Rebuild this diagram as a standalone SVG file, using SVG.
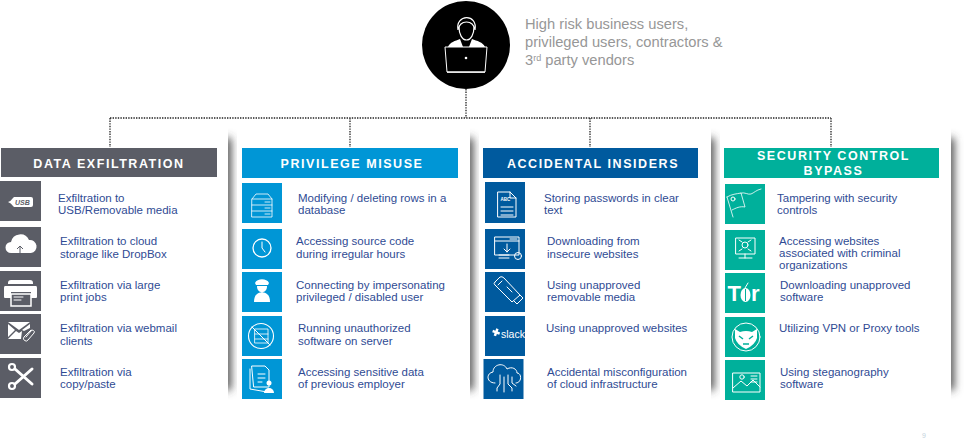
<svg xmlns="http://www.w3.org/2000/svg" width="977" height="445" viewBox="0 0 977 445">
<style>
.t{font-family:"Liberation Sans",Arial,sans-serif;font-size:11.5px;fill:#2f4b94}
.h{font-family:"Liberation Sans",Arial,sans-serif;font-size:12.5px;font-weight:700;fill:#fff;letter-spacing:1.55px;text-anchor:middle}
.l{fill:none;stroke:#fff;stroke-width:1;stroke-linecap:round;stroke-linejoin:round}
.w{fill:#fff}
.dot{fill:none;stroke:#222;stroke-width:1.3;stroke-dasharray:1.4 1.2}
.g{fill:#5b5d66}.b{fill:#0096d6}.d{fill:#005a9e}.e{fill:#00b09b}
.top{font-family:"Liberation Sans",Arial,sans-serif;font-size:14.7px;fill:#979797}
.sh{fill:#444;filter:url(#soft)}
.ic{font-family:"Liberation Sans",Arial,sans-serif;fill:#fff}
</style>
<defs>
<filter id="soft" x="-300%" y="-10%" width="700%" height="120%"><feGaussianBlur stdDeviation="4"/></filter>
</defs>
<g id="panel-shadows">
<rect class="sh" x="222" y="138" width="9" height="252"/>
<rect class="sh" x="464" y="138" width="9" height="252"/>
<rect class="sh" x="705" y="138" width="9" height="252"/>
<rect class="sh" x="945" y="138" width="9" height="252"/>
<rect class="w" x="0" y="125" width="228" height="285"/>
<rect class="w" x="237" y="125" width="233" height="285"/>
<rect class="w" x="479" y="125" width="232" height="285"/>
<rect class="w" x="720" y="125" width="231" height="285"/>
</g>
<g id="connectors">
<path class="dot" d="M466 89V118M110 118H831M110 118V147M350 118V147M590 118V147M831 118V147"/>
</g>
<g id="source">
<circle cx="466" cy="45" r="44" fill="#000"/>
<path class="w" d="M448 47c2-5 7-6 12-8l3 8h6l3-8c5 2 11 3 13 8z"/>
<path d="M466 40l-2 2 1 5h2l1-5z" fill="#000"/>
<path d="M459 27c0-8 15-8 15 0 0 7-3 13-7.500 13s-7.500-6-7.500-13z" fill="#000" stroke="#fff" stroke-width="1.200"/>
<path d="M458 30c-3-16 20-17 17 0-1-5-3-8-8.500-8s-7.500 3-8.500 8z" fill="#000" stroke="#fff" stroke-width="1.200"/>
<path d="M445 47h42l-2 25h-38z" fill="#000" stroke="#fff" stroke-width="1"/>
<rect x="447" y="71.500" width="38" height="1.300" class="w"/>
<circle cx="466" cy="58" r="1.300" class="w"/>
<text class="top" x="525" y="29">High risk business users,</text>
<text class="top" x="525" y="47">privileged users, contractors &amp;</text>
<text class="top" x="525" y="65">3<tspan font-size="9" dy="-4">rd</tspan><tspan dy="4"> party vendors</tspan></text>
</g>

<g id="data-exfiltration">
<rect class="g" x="1" y="148" width="216" height="29"/>
<text class="h" x="109" y="167.500">DATA EXFILTRATION</text>
<rect class="g" x="0" y="181" width="41" height="40"/>
<rect class="g" x="0" y="227" width="41" height="40"/>
<rect class="g" x="0" y="271" width="41" height="40"/>
<rect class="g" x="0" y="314" width="41" height="40"/>
<rect class="g" x="0" y="358" width="41" height="40"/>
<path class="w" d="M8 202q3-1 5-4l1-1h17q2 0 2 2v6q0 2-2 2H14l-1-1q-2-3-5-4z"/>
<text x="15" y="205" font-family="Liberation Sans,sans-serif" font-size="7" font-weight="700" font-style="italic" fill="#5b5d66">USB</text>
<path class="w" d="M11 253a5.500 5.500 0 0 1 0-11 9.500 9.500 0 0 1 18-2 6.500 6.500 0 0 1 2 13z"/>
<path d="M20 257v-11m-3 3l3-3 3 3" fill="none" stroke="#5b5d66"/>
<path class="w" d="M8 283q0-3 3-3h19q3 0 3 3v1H8zM5 286h31q1 0 1 2v9q0 1-1 1h-5v-6H11v6H5q-1 0-1-1v-9q0-2 1-2z"/>
<rect x="11" y="294" width="20" height="12" fill="#5b5d66" stroke="#fff" stroke-width="1.500"/>
<path class="l" d="M14 297h9M14 300h7"/>
<path class="w" d="M8 322h22l-11 8zM8 324l7 6-7 7zM30 324v4l-6 3-2-1zM8 339l8-8 3 2 3-2-1 8z"/>
<path class="l" d="M31 330l-7 7a2.500 2.500 0 0 0 4 3l6-7a1.500 1.500 0 0 0-3-2l-5 6"/>
<circle cx="12" cy="367" r="3" fill="none" stroke="#fff" stroke-width="2.200"/>
<circle cx="12" cy="386" r="3" fill="none" stroke="#fff" stroke-width="2.200"/>
<path fill="none" stroke="#fff" stroke-width="3" stroke-linecap="round" d="M15 369l17 15M15 384l17-15"/>
<text class="t" x="58" y="202">Exfiltration to</text><text class="t" x="58" y="214">USB/Removable media</text>
<text class="t" x="60" y="245">Exfiltration to cloud</text><text class="t" x="60" y="258">storage like DropBox</text>
<text class="t" x="60" y="289">Exfiltration via large</text><text class="t" x="60" y="301">print jobs</text>
<text class="t" x="60" y="332">Exfiltration via webmail</text><text class="t" x="60" y="345">clients</text>
<text class="t" x="60" y="376">Exfiltration via</text><text class="t" x="60" y="388">copy/paste</text>
</g>

<g id="privilege-misuse">
<rect class="b" x="242" y="148" width="216" height="30"/>
<text class="h" x="352" y="167.500">PRIVILEGE MISUSE</text>
<rect class="b" x="242" y="183" width="40" height="40"/>
<rect class="b" x="242" y="229" width="40" height="40"/>
<rect class="b" x="242" y="272" width="40" height="40"/>
<rect class="b" x="242" y="316" width="40" height="40"/>
<rect class="b" x="242" y="359" width="40" height="40"/>
<path class="l" style="stroke-width:.8" d="M252 199l4-5h12l4 5v18h-20zM252 199h20M252 205h20M252 211h20M265 202h5M265 208h5M265 214h5"/>
<circle class="l" cx="262" cy="248" r="9" style="stroke-width:1.300"/><path class="l" d="M262 242v6l3 4"/>
<path class="w" d="M254 302c0-8 4-9 8-10 4 1 8 2 8 10z"/>
<path class="w" d="M255 283c2-5 12-5 14 0l-1 2h-12z"/><path class="w" d="M257 286h10c0 4-2 6-5 6s-5-2-5-6z"/>
<circle class="l" cx="261" cy="336" r="12.500" style="stroke-width:1.100"/>
<path class="l" style="stroke-width:.8" d="M255 329h13v14h-13zM255 334h13M255 339h13"/><path class="l" d="M252 327l18 18"/>
<path class="l" d="M252 366h13l4 4v17h-15zM250 369v20l17 3M258 374h7M258 378h7M258 382h4"/>
<circle class="w" cx="269" cy="383" r="2.500"/><path class="w" d="M264 393a5 5 0 0 1 10 0z"/>
<text class="t" x="298" y="202">Modifying / deleting rows in a</text><text class="t" x="298" y="214">database</text>
<text class="t" x="296" y="245">Accessing source code</text><text class="t" x="296" y="258">during irregular hours</text>
<text class="t" x="296" y="289">Connecting by impersonating</text><text class="t" x="296" y="301">privileged / disabled user</text>
<text class="t" x="298" y="332">Running unauthorized</text><text class="t" x="298" y="345">software on server</text>
<text class="t" x="298" y="376">Accessing sensitive data</text><text class="t" x="298" y="388">of previous employer</text>
</g>

<g id="accidental-insiders">
<rect class="d" x="483" y="148" width="215" height="30"/>
<text class="h" x="593" y="167.500">ACCIDENTAL INSIDERS</text>
<rect class="d" x="485" y="182" width="40" height="41"/>
<rect class="d" x="485" y="229" width="40" height="40"/>
<rect class="d" x="485" y="272" width="40" height="40"/>
<rect class="d" x="485" y="316" width="40" height="40"/>
<rect class="d" x="483.500" y="359" width="40" height="40"/>
<path class="l" d="M498 192h12l6 6v19h-18zM510 192v6h6M501 207h12M501 211h12M501 215h12"/>
<text class="ic" x="500.500" y="201" font-size="4.500" font-weight="700">ABC</text>
<path class="l" d="M495 237h24v18h-24zM495 241h24M510 239h7M507 244v8m-3-3l3 3 3-3M499 255h10M499 258h10"/><circle class="l" cx="518" cy="256" r="3.500"/>
<path class="l" d="M495 282l5-5q2-1 4 1l16 17-8 7-17-17q-2-1 0-3zM498 285l4-4M507 287l5 5M520 295l3 3-6 6-3-3"/>
<text class="ic" x="501" y="338" font-size="10.500">slack</text>
<path class="w" d="M495 328.500h2.500v2.500h2.500v2.500h-2.500v2.500h-2.500v-2.500h-2.500v-2.500h2.500z" transform="rotate(20 496 332)"/>
<path class="l" d="M495 383c-9 0-9-10-2-11 0-8 11-10 14-3 5-3 10 0 10 4 5 0 5 10-1 10M500 375v9l-3 4v3M504 377v15M508 375v9l4 4v3M512 377v6l4 3"/>
<text class="t" x="544" y="202">Storing passwords in clear</text><text class="t" x="544" y="214">text</text>
<text class="t" x="547" y="245">Downloading  from</text><text class="t" x="547" y="258">insecure websites</text>
<text class="t" x="547" y="289">Using unapproved</text><text class="t" x="547" y="301">removable media</text>
<text class="t" x="546" y="332">Using unapproved websites</text>
<text class="t" x="547" y="376">Accidental misconfiguration</text><text class="t" x="547" y="388">of cloud infrastructure</text>
</g>

<g id="security-control-bypass">
<rect class="e" x="724" y="148" width="215" height="30"/>
<text class="h" x="833.500" y="160">SECURITY CONTROL</text>
<text class="h" x="833.500" y="175">BYPASS</text>
<rect class="e" x="725" y="184" width="40" height="40"/>
<rect class="e" x="725" y="230" width="40" height="40"/>
<rect class="e" x="725" y="273" width="40" height="40"/>
<rect class="e" x="725" y="317" width="40" height="40"/>
<rect class="e" x="725" y="360" width="40" height="40"/>
<path class="l" style="stroke-width:.8" d="M727 197l6 20M727 197c5-3 9-3 14-4l4 14c-5-1-9 1-13 3M741 193c4-1 7 2 10 1s5-4 10-5"/><circle class="l" cx="733" cy="199" r="2"/>
<path class="l" d="M736 238h19v16h-19zM745 254v4M739 258h13"/><circle class="l" cx="745" cy="245" r="3"/><path class="l" d="M739 240l3 2M751 240l-3 2M739 251l3-2M751 251l-3-2"/>
<text class="ic" x="727.500" y="301" font-size="22" font-weight="700">T</text>
<ellipse class="w" cx="745.500" cy="295" rx="5" ry="7"/><path d="M745.500 289v12" stroke="#00b09b" fill="none"/><path class="l" d="M745 288l3-5"/>
<text class="ic" x="751" y="301" font-size="22" font-weight="700">r</text>
<circle class="l" cx="746" cy="337" r="14"/>
<path class="w" d="M735 329l5 3q6-2 12 0l5-3v9q-2 7-11 11-9-4-11-11z"/>
<path d="M739 336l4 3M753 336l-4 3M743 344h6M746 325v3" stroke="#00b09b" stroke-width="1.500" fill="none"/>
<path class="l" d="M733 373h27v19h-27zM733 388l8-7 6 5 6-6 7 7M751 376h6M751 379h6M751 382h6"/><circle class="l" cx="742" cy="377" r="2.200"/>
<text class="t" x="777" y="202">Tampering with security</text><text class="t" x="777" y="214">controls</text>
<text class="t" x="779" y="245">Accessing websites</text><text class="t" x="779" y="257">associated with criminal</text><text class="t" x="779" y="269">organizations</text>
<text class="t" x="780" y="289">Downloading  unapproved</text><text class="t" x="780" y="301">software</text>
<text class="t" x="779" y="332">Utilizing  VPN or Proxy tools</text>
<text class="t" x="780" y="376">Using steganography</text><text class="t" x="780" y="388">software</text>
</g>
<text x="922" y="438" font-family="Liberation Sans,sans-serif" font-size="7" fill="#c4d2dc">9</text>
</svg>
